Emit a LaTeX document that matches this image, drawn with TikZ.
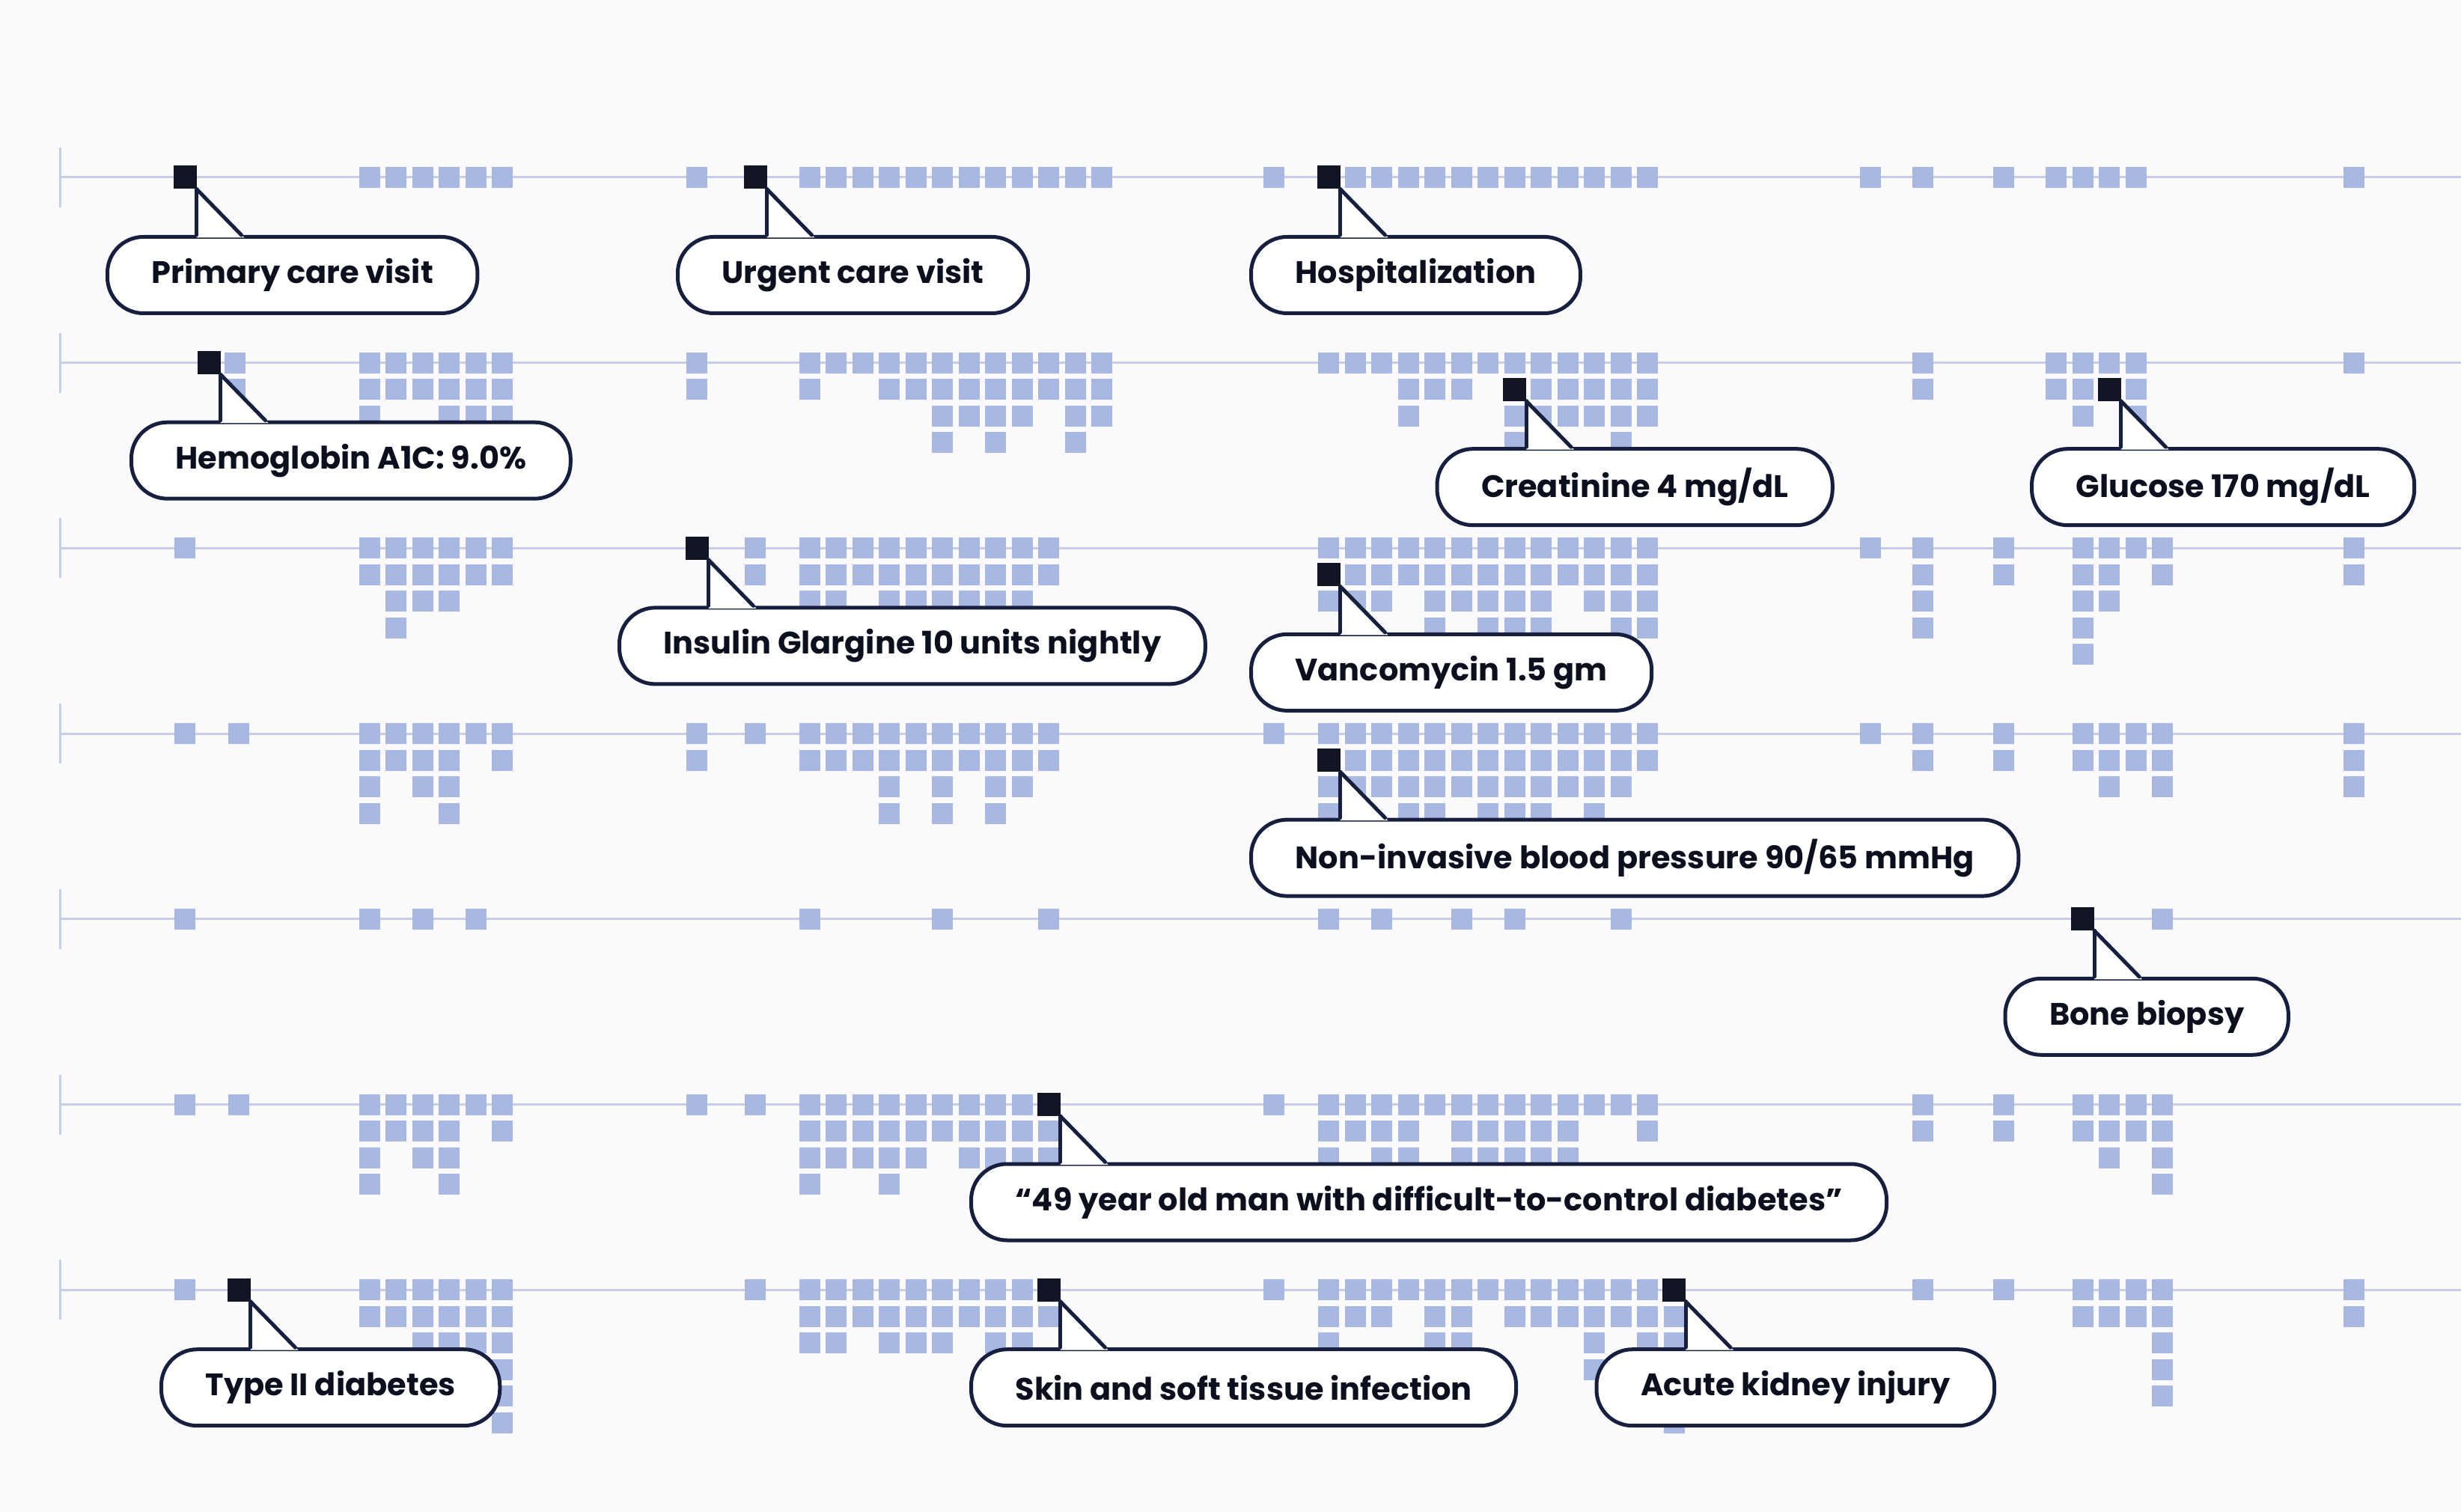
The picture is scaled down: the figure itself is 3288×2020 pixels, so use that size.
\documentclass[tikz,border=0pt]{standalone}
\usepackage{fontspec}
\newfontfamily\lblfont{Poppins}
\usetikzlibrary{calc}
\definecolor{bgcol}{RGB}{250,250,252}
\definecolor{linecol}{RGB}{196,205,234}
\definecolor{sqcol}{RGB}{168,184,227}
\definecolor{navy}{RGB}{22,32,62}
\definecolor{blkcol}{RGB}{18,22,36}
\definecolor{txtcol}{RGB}{12,16,30}
\newcommand\xA[1]{(494+35.4*#1)}
\newcommand\xC[1]{(1082+35.45*#1)}
\newcommand\xE[1]{(1775+35.5*#1)}
\newcommand\xG[1]{(2747+35.5*#1)}
\newcommand\sqs[3]{\foreach \lv in {#3}{\fill[sqcol] ({#1-14},{#2+35.5*\lv-14}) rectangle ++(28,28);}}
\newcommand\qA[2]{\sqs{\xA{#1}}{\yy}{#2}}
\newcommand\qC[2]{\sqs{\xC{#1}}{\yy}{#2}}
\newcommand\qE[2]{\sqs{\xE{#1}}{\yy}{#2}}
\newcommand\qG[2]{\sqs{\xG{#1}}{\yy}{#2}}
\newcommand\qS[2]{\sqs{#1}{\yy}{#2}}
\newcommand\callout[4]{%
  \node[blk] (b#1) at (#2,#3) {};
  \node[cbox] (c#1) at ({#2-106},{#3+77}) {#4};
  \coordinate (p#1) at (b#1.south east);
  \fill[white] (p#1) -- ($(p#1 |- c#1.north)+(0,3.5)$) -- ($(p#1 |- c#1.north)+(64,3.5)$) -- cycle;
  \draw[cl] (p#1) -- (p#1 |- c#1.north);
  \draw[cl] (p#1) -- ($(p#1 |- c#1.north)+(60,0)$);
}
\begin{document}
\begin{tikzpicture}[x=0.1mm,y=-0.1mm,
  tl/.style={draw=linecol, line width=0.3mm},
  blk/.style={fill=blkcol, minimum size=3.1mm, inner sep=0pt, outer sep=0pt},
  cbox/.style={draw=navy, line width=0.5mm, fill=white, rounded corners=4.8mm,
    minimum height=10.2mm, inner xsep=5.9mm, inner ysep=0pt, anchor=north west,
    font=\lblfont\bfseries\fontsize{11.8pt}{13pt}\selectfont, text=txtcol},
  cl/.style={draw=navy, line width=0.5mm, line cap=round}]
\useasboundingbox (0,0) rectangle (3288,2020);
\fill[bgcol] (0,0) rectangle (3288,2020);
% timelines
\foreach \r/\ty in {1/237,2/484.7,3/732.4,4/980.1,5/1227.8,6/1475.5,7/1723.2}{
  \coordinate (ts\r) at (80,\ty);
  \coordinate (te\r) at (3288,\ty);
  \draw[tl] (ts\r) -- (te\r);
  \draw[tl] ([yshift=4mm]ts\r) -- ([yshift=-4mm]ts\r);
}
% ---------- row 1
\def\yy{237}
\foreach \k in {0,...,5}{\qA{\k}{0}}
\qS{931}{0}
\foreach \k in {0,...,11}{\qC{\k}{0}}
\qS{1702}{0}
\foreach \k in {1,...,12}{\qE{\k}{0}}
\qS{2499}{0}\qS{2569}{0}\qS{2677}{0}
\foreach \k in {0,...,3}{\qG{\k}{0}}
\qS{3145}{0}
% ---------- row 2
\def\yy{484.7}
\qS{314}{0,1}
\foreach \k in {0,...,5}{\qA{\k}{0,1}}
\foreach \k in {0,3,4,5}{\qA{\k}{2}}
\qS{931}{0,1}
\qC{0}{0,1}\qC{1}{0}\qC{2}{0}\qC{3}{0,1}\qC{4}{0,1}\qC{5}{0,1,2,3}\qC{6}{0,1,2}
\qC{7}{0,1,2,3}\qC{8}{0,1,2}\qC{9}{0,1}\qC{10}{0,1,2,3}\qC{11}{0,1,2}
\qE{0}{0}\qE{1}{0}\qE{2}{0}\qE{3}{0,1,2}\qE{4}{0,1}\qE{5}{0,1}\qE{6}{0}\qE{7}{0,2,3}
\qE{8}{0,1,2}\qE{9}{0,1,2}\qE{10}{0,1,2}\qE{11}{0,1,2,3}\qE{12}{0,1,2}
\qS{2569}{0,1}
\qG{0}{0,1}\qG{1}{0,1,2}\qG{2}{0}\qG{3}{0,1,2}
\qS{3145}{0}
% ---------- row 3
\def\yy{732.4}
\qS{247}{0}
\qA{0}{0,1}\qA{1}{0,1,2,3}\qA{2}{0,1,2}\qA{3}{0,1,2}\qA{4}{0,1}\qA{5}{0,1}
\qS{1009}{0,1}
\qC{0}{0,1,2}\qC{1}{0,1,2}\qC{2}{0,1}\qC{3}{0,1,2}\qC{4}{0,1,2}\qC{5}{0,1,2}
\qC{6}{0,1,2}\qC{7}{0,1,2}\qC{8}{0,1,2}\qC{9}{0,1}
\qE{0}{0,2}\qE{1}{0,1,2}\qE{2}{0,1,2}\qE{3}{0,1}\qE{4}{0,1,2,3}\qE{5}{0,1,2}\qE{6}{0,1,2,3}
\qE{7}{0,1,2,3}\qE{8}{0,1,2,3}\qE{9}{0,1}\qE{10}{0,1,2}\qE{11}{0,1,2,3}\qE{12}{0,1,2,3}
\qS{2499}{0}\qS{2569}{0,1,2,3}\qS{2677}{0,1}
\qG{1}{0,1,2,3,4}\qG{2}{0,1,2}\qG{3}{0}\qG{4}{0,1}
\qS{3145}{0,1}
% ---------- row 4
\def\yy{980.1}
\qS{247}{0}\qS{319}{0}
\qA{0}{0,1,2,3}\qA{1}{0,1}\qA{2}{0,1,2}\qA{3}{0,1,2,3}\qA{4}{0}\qA{5}{0,1}
\qS{931}{0,1}\qS{1009}{0}
\qC{0}{0,1}\qC{1}{0,1}\qC{2}{0,1}\qC{3}{0,1,2,3}\qC{4}{0,1}\qC{5}{0,1,2,3}
\qC{6}{0,1}\qC{7}{0,1,2,3}\qC{8}{0,1,2}\qC{9}{0,1}
\qS{1702}{0}
\qE{0}{0,2,3}\qE{1}{0,1,2}\qE{2}{0,1,2}\qE{3}{0,1,2,3}\qE{4}{0,1,2,3}\qE{5}{0,1,2}\qE{6}{0,1,2,3}
\qE{7}{0,1,2,3}\qE{8}{0,1,2,3}\qE{9}{0,1,2}\qE{10}{0,1,2,3}\qE{11}{0,1,2}\qE{12}{0,1}
\qS{2499}{0}\qS{2569}{0,1}\qS{2677}{0,1}
\qG{1}{0,1}\qG{2}{0,1,2}\qG{3}{0,1}\qG{4}{0,1,2}
\qS{3145}{0,1,2}
% ---------- row 5
\def\yy{1227.8}
\qS{247}{0}
\qA{0}{0}\qA{2}{0}\qA{4}{0}
\qC{0}{0}\qC{5}{0}\qC{9}{0}
\qE{0}{0}\qE{2}{0}\qE{5}{0}\qE{7}{0}\qE{11}{0}
\qG{4}{0}
% ---------- row 6
\def\yy{1475.5}
\qS{247}{0}\qS{319}{0}
\qA{0}{0,1,2,3}\qA{1}{0,1}\qA{2}{0,1,2}\qA{3}{0,1,2,3}\qA{4}{0}\qA{5}{0,1}
\qS{931}{0}\qS{1009}{0}
\qC{0}{0,1,2,3}\qC{1}{0,1,2}\qC{2}{0,1,2}\qC{3}{0,1,2,3}\qC{4}{0,1,2}\qC{5}{0,1}
\qC{6}{0,1,2}\qC{7}{0,1,2}\qC{8}{0,1,2}\qC{9}{1,2}
\qS{1702}{0}
\qE{0}{0,1,2}\qE{1}{0,1}\qE{2}{0,1,2}\qE{3}{0,1,2}\qE{4}{0}\qE{5}{0,1,2}\qE{6}{0,1,2}
\qE{7}{0,1,2}\qE{8}{0,1,2}\qE{9}{0,1,2}\qE{10}{0}\qE{11}{0}\qE{12}{0,1}
\qS{2569}{0,1}\qS{2677}{0,1}
\qG{1}{0,1}\qG{2}{0,1,2}\qG{3}{0,1}\qG{4}{0,1,2,3}
% ---------- row 7
\def\yy{1723.2}
\qS{247}{0}
\qA{0}{0,1}\qA{1}{0,1}\qA{2}{0,1,2}\qA{3}{0,1,2}\qA{4}{0,1,2}\qA{5}{0,1,2,3,4,5}
\qS{1009}{0}
\qC{0}{0,1,2}\qC{1}{0,1,2}\qC{2}{0,1}\qC{3}{0,1,2}\qC{4}{0,1,2}\qC{5}{0,1,2}
\qC{6}{0,1}\qC{7}{0,1,2}\qC{8}{0,1,2}\qC{9}{1}
\qS{1702}{0}
\qE{0}{0,1,2}\qE{1}{0,1}\qE{2}{0,1}\qE{3}{0}\qE{4}{0,1,2}\qE{5}{0,1,2}\qE{6}{0}
\qE{7}{0,1}\qE{8}{0,1}\qE{9}{0,1}\qE{10}{0,1,2,3}\qE{11}{0,1}\qE{12}{0,1,2}\qE{13}{1,2,3,4,5}
\qS{2569}{0}\qS{2677}{0}
\qG{1}{0,1}\qG{2}{0,1}\qG{3}{0,1}\qG{4}{0,1,2,3,4}
\qS{3145}{0,1}
% ---------- callouts
\callout{pc}{247}{237}{Primary care visit}
\callout{uc}{1009}{237}{Urgent care visit}
\callout{ho}{1775}{237}{Hospitalization}
\callout{hb}{279}{484.7}{Hemoglobin A1C: 9.0\%}
\callout{cr}{2023.5}{520.2}{Creatinine 4 mg/dL}
\callout{gl}{2818}{520.2}{Glucose 170 mg/dL}
\callout{in}{931}{732.4}{Insulin Glargine 10 units nightly}
\callout{va}{1775}{767.9}{Vancomycin 1.5 gm}
\callout{bp}{1775}{1015.6}{Non-invasive blood pressure 90/65 mmHg}
\callout{bb}{2782.5}{1227.8}{Bone biopsy}
\callout{ym}{1401}{1475.5}{“49 year old man with difficult-to-control diabetes”}
\callout{td}{319}{1723.2}{Type II diabetes}
\callout{sk}{1401}{1723.2}{Skin and soft tissue infection}
\callout{ak}{2236.5}{1723.2}{Acute kidney injury}
\end{tikzpicture}
\end{document}
